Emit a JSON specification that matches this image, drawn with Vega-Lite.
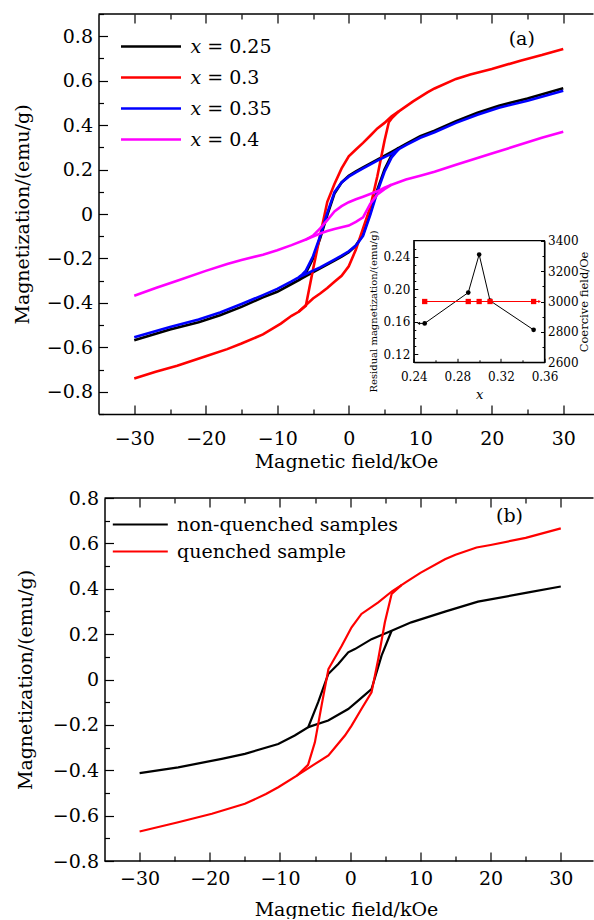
{
  "$schema": "https://vega.github.io/schema/vega-lite/v6.json",
  "padding": {"left": 12.5, "top": 5, "right": 0, "bottom": 0},
  "background": "white",
  "config": {
    "font": "DejaVu Serif",
    "view": {"stroke": null},
    "axis": {"labelFont": "DejaVu Serif", "titleFont": "DejaVu Serif", "labelFontSize": 19, "titleFontSize": 19, "titleFontWeight": "normal", "labelColor": "#000", "titleColor": "#000", "domainColor": "#000", "tickColor": "#000", "domainWidth": 1.5, "tickWidth": 1.2, "grid": false, "labelOverlap": false, "labelFlush": false},
    "legend": {"labelFont": "DejaVu Serif", "labelFontSize": 19, "labelColor": "#000", "labelLimit": 400}
  },
  "resolve": {"scale": {"color": "independent"}, "legend": {"color": "independent"}},
  "datasets": {
    "a": [
      {"s":"x = 0.25","b":"d","h":30,"m":0.566},{"s":"x = 0.25","b":"d","h":25,"m":0.52},{"s":"x = 0.25","b":"d","h":21,"m":0.487},{"s":"x = 0.25","b":"d","h":18,"m":0.456},{"s":"x = 0.25","b":"d","h":15,"m":0.418},{"s":"x = 0.25","b":"d","h":12,"m":0.375},{"s":"x = 0.25","b":"d","h":10,"m":0.35},{"s":"x = 0.25","b":"d","h":8,"m":0.315},{"s":"x = 0.25","b":"d","h":7,"m":0.298},{"s":"x = 0.25","b":"d","h":6,"m":0.28},{"s":"x = 0.25","b":"d","h":4,"m":0.245},{"s":"x = 0.25","b":"d","h":2,"m":0.21},{"s":"x = 0.25","b":"d","h":1,"m":0.192},{"s":"x = 0.25","b":"d","h":0,"m":0.172},{"s":"x = 0.25","b":"d","h":-1,"m":0.142},{"s":"x = 0.25","b":"d","h":-2,"m":0.092},{"s":"x = 0.25","b":"d","h":-3,"m":-0.005},{"s":"x = 0.25","b":"d","h":-4,"m":-0.11},{"s":"x = 0.25","b":"d","h":-5,"m":-0.2},{"s":"x = 0.25","b":"d","h":-6,"m":-0.265},{"s":"x = 0.25","b":"d","h":-7,"m":-0.298},{"s":"x = 0.25","b":"d","h":-8,"m":-0.315},{"s":"x = 0.25","b":"d","h":-10,"m":-0.35},{"s":"x = 0.25","b":"d","h":-12,"m":-0.375},{"s":"x = 0.25","b":"d","h":-15,"m":-0.418},{"s":"x = 0.25","b":"d","h":-18,"m":-0.456},{"s":"x = 0.25","b":"d","h":-21,"m":-0.487},{"s":"x = 0.25","b":"d","h":-25,"m":-0.52},{"s":"x = 0.25","b":"d","h":-30,"m":-0.568},
      {"s":"x = 0.25","b":"a","h":-7,"m":-0.298},{"s":"x = 0.25","b":"a","h":-6,"m":-0.28},{"s":"x = 0.25","b":"a","h":-4,"m":-0.245},{"s":"x = 0.25","b":"a","h":-2,"m":-0.21},{"s":"x = 0.25","b":"a","h":-1,"m":-0.192},{"s":"x = 0.25","b":"a","h":0,"m":-0.172},{"s":"x = 0.25","b":"a","h":1,"m":-0.142},{"s":"x = 0.25","b":"a","h":2,"m":-0.092},{"s":"x = 0.25","b":"a","h":3,"m":0.005},{"s":"x = 0.25","b":"a","h":4,"m":0.11},{"s":"x = 0.25","b":"a","h":5,"m":0.2},{"s":"x = 0.25","b":"a","h":6,"m":0.265},{"s":"x = 0.25","b":"a","h":7,"m":0.298},
      {"s":"x = 0.3","b":"d","h":30,"m":0.743},{"s":"x = 0.3","b":"d","h":27,"m":0.715},{"s":"x = 0.3","b":"d","h":24,"m":0.69},{"s":"x = 0.3","b":"d","h":20,"m":0.652},{"s":"x = 0.3","b":"d","h":17,"m":0.628},{"s":"x = 0.3","b":"d","h":15,"m":0.608},{"s":"x = 0.3","b":"d","h":12,"m":0.565},{"s":"x = 0.3","b":"d","h":11,"m":0.547},{"s":"x = 0.3","b":"d","h":9,"m":0.507},{"s":"x = 0.3","b":"d","h":7,"m":0.462},{"s":"x = 0.3","b":"d","h":6,"m":0.44},{"s":"x = 0.3","b":"d","h":5,"m":0.41},{"s":"x = 0.3","b":"d","h":4,"m":0.385},{"s":"x = 0.3","b":"d","h":3,"m":0.352},{"s":"x = 0.3","b":"d","h":2,"m":0.32},{"s":"x = 0.3","b":"d","h":1,"m":0.29},{"s":"x = 0.3","b":"d","h":0,"m":0.26},{"s":"x = 0.3","b":"d","h":-1,"m":0.205},{"s":"x = 0.3","b":"d","h":-2,"m":0.135},{"s":"x = 0.3","b":"d","h":-3,"m":0.055},{"s":"x = 0.3","b":"d","h":-4,"m":-0.096},{"s":"x = 0.3","b":"d","h":-5,"m":-0.25},{"s":"x = 0.3","b":"d","h":-6,"m":-0.413},{"s":"x = 0.3","b":"d","h":-7,"m":-0.44},{"s":"x = 0.3","b":"d","h":-8,"m":-0.458},{"s":"x = 0.3","b":"d","h":-9.5,"m":-0.493},{"s":"x = 0.3","b":"d","h":-12,"m":-0.542},{"s":"x = 0.3","b":"d","h":-15,"m":-0.583},{"s":"x = 0.3","b":"d","h":-17,"m":-0.608},{"s":"x = 0.3","b":"d","h":-20,"m":-0.64},{"s":"x = 0.3","b":"d","h":-24,"m":-0.683},{"s":"x = 0.3","b":"d","h":-27,"m":-0.71},{"s":"x = 0.3","b":"d","h":-30,"m":-0.74},
      {"s":"x = 0.3","b":"a","h":-7,"m":-0.44},{"s":"x = 0.3","b":"a","h":-6,"m":-0.41},{"s":"x = 0.3","b":"a","h":-5,"m":-0.38},{"s":"x = 0.3","b":"a","h":-4,"m":-0.358},{"s":"x = 0.3","b":"a","h":-3,"m":-0.333},{"s":"x = 0.3","b":"a","h":-2,"m":-0.305},{"s":"x = 0.3","b":"a","h":-1,"m":-0.278},{"s":"x = 0.3","b":"a","h":0,"m":-0.235},{"s":"x = 0.3","b":"a","h":1,"m":-0.16},{"s":"x = 0.3","b":"a","h":2,"m":-0.065},{"s":"x = 0.3","b":"a","h":3,"m":0.03},{"s":"x = 0.3","b":"a","h":4,"m":0.17},{"s":"x = 0.3","b":"a","h":5,"m":0.33},{"s":"x = 0.3","b":"a","h":5.6,"m":0.413},{"s":"x = 0.3","b":"a","h":6,"m":0.43},{"s":"x = 0.3","b":"a","h":7,"m":0.462},
      {"s":"x = 0.35","b":"d","h":30,"m":0.555},{"s":"x = 0.35","b":"d","h":25,"m":0.51},{"s":"x = 0.35","b":"d","h":21,"m":0.478},{"s":"x = 0.35","b":"d","h":18,"m":0.447},{"s":"x = 0.35","b":"d","h":15,"m":0.41},{"s":"x = 0.35","b":"d","h":12,"m":0.368},{"s":"x = 0.35","b":"d","h":10,"m":0.343},{"s":"x = 0.35","b":"d","h":8,"m":0.31},{"s":"x = 0.35","b":"d","h":7,"m":0.292},{"s":"x = 0.35","b":"d","h":6,"m":0.272},{"s":"x = 0.35","b":"d","h":4,"m":0.24},{"s":"x = 0.35","b":"d","h":2,"m":0.205},{"s":"x = 0.35","b":"d","h":1,"m":0.187},{"s":"x = 0.35","b":"d","h":0,"m":0.168},{"s":"x = 0.35","b":"d","h":-1,"m":0.142},{"s":"x = 0.35","b":"d","h":-2,"m":0.098},{"s":"x = 0.35","b":"d","h":-3,"m":0.005},{"s":"x = 0.35","b":"d","h":-4,"m":-0.1},{"s":"x = 0.35","b":"d","h":-5,"m":-0.19},{"s":"x = 0.35","b":"d","h":-6,"m":-0.255},{"s":"x = 0.35","b":"d","h":-6.5,"m":-0.272},{"s":"x = 0.35","b":"d","h":-7,"m":-0.285},{"s":"x = 0.35","b":"d","h":-8,"m":-0.303},{"s":"x = 0.35","b":"d","h":-10,"m":-0.337},{"s":"x = 0.35","b":"d","h":-12,"m":-0.365},{"s":"x = 0.35","b":"d","h":-15,"m":-0.405},{"s":"x = 0.35","b":"d","h":-18,"m":-0.443},{"s":"x = 0.35","b":"d","h":-21,"m":-0.475},{"s":"x = 0.35","b":"d","h":-25,"m":-0.508},{"s":"x = 0.35","b":"d","h":-30,"m":-0.555},
      {"s":"x = 0.35","b":"a","h":-7,"m":-0.285},{"s":"x = 0.35","b":"a","h":-6,"m":-0.27},{"s":"x = 0.35","b":"a","h":-4,"m":-0.24},{"s":"x = 0.35","b":"a","h":-2,"m":-0.205},{"s":"x = 0.35","b":"a","h":-1,"m":-0.187},{"s":"x = 0.35","b":"a","h":0,"m":-0.168},{"s":"x = 0.35","b":"a","h":1,"m":-0.142},{"s":"x = 0.35","b":"a","h":2,"m":-0.098},{"s":"x = 0.35","b":"a","h":3,"m":-0.005},{"s":"x = 0.35","b":"a","h":4,"m":0.1},{"s":"x = 0.35","b":"a","h":5,"m":0.19},{"s":"x = 0.35","b":"a","h":6,"m":0.255},{"s":"x = 0.35","b":"a","h":6.5,"m":0.274},{"s":"x = 0.35","b":"a","h":7,"m":0.292},
      {"s":"x = 0.4","b":"d","h":30,"m":0.37},{"s":"x = 0.4","b":"d","h":27,"m":0.343},{"s":"x = 0.4","b":"d","h":25,"m":0.323},{"s":"x = 0.4","b":"d","h":20,"m":0.272},{"s":"x = 0.4","b":"d","h":18,"m":0.252},{"s":"x = 0.4","b":"d","h":15,"m":0.222},{"s":"x = 0.4","b":"d","h":12,"m":0.19},{"s":"x = 0.4","b":"d","h":10,"m":0.172},{"s":"x = 0.4","b":"d","h":8,"m":0.155},{"s":"x = 0.4","b":"d","h":6,"m":0.132},{"s":"x = 0.4","b":"d","h":5,"m":0.118},{"s":"x = 0.4","b":"d","h":4,"m":0.102},{"s":"x = 0.4","b":"d","h":3,"m":0.09},{"s":"x = 0.4","b":"d","h":2,"m":0.078},{"s":"x = 0.4","b":"d","h":1,"m":0.066},{"s":"x = 0.4","b":"d","h":0,"m":0.053},{"s":"x = 0.4","b":"d","h":-1,"m":0.035},{"s":"x = 0.4","b":"d","h":-2,"m":0.012},{"s":"x = 0.4","b":"d","h":-3,"m":-0.028},{"s":"x = 0.4","b":"d","h":-4,"m":-0.065},{"s":"x = 0.4","b":"d","h":-5,"m":-0.097},{"s":"x = 0.4","b":"d","h":-6,"m":-0.115},{"s":"x = 0.4","b":"d","h":-8,"m":-0.14},{"s":"x = 0.4","b":"d","h":-10,"m":-0.163},{"s":"x = 0.4","b":"d","h":-12,"m":-0.183},{"s":"x = 0.4","b":"d","h":-15,"m":-0.207},{"s":"x = 0.4","b":"d","h":-17,"m":-0.225},{"s":"x = 0.4","b":"d","h":-20,"m":-0.256},{"s":"x = 0.4","b":"d","h":-24,"m":-0.3},{"s":"x = 0.4","b":"d","h":-27,"m":-0.333},{"s":"x = 0.4","b":"d","h":-30,"m":-0.368},
      {"s":"x = 0.4","b":"a","h":-6,"m":-0.115},{"s":"x = 0.4","b":"a","h":-5,"m":-0.102},{"s":"x = 0.4","b":"a","h":-4,"m":-0.088},{"s":"x = 0.4","b":"a","h":-3,"m":-0.077},{"s":"x = 0.4","b":"a","h":-2,"m":-0.068},{"s":"x = 0.4","b":"a","h":-1,"m":-0.06},{"s":"x = 0.4","b":"a","h":0,"m":-0.052},{"s":"x = 0.4","b":"a","h":1,"m":-0.035},{"s":"x = 0.4","b":"a","h":2,"m":-0.015},{"s":"x = 0.4","b":"a","h":3,"m":0.045},{"s":"x = 0.4","b":"a","h":4,"m":0.088},{"s":"x = 0.4","b":"a","h":5,"m":0.112},{"s":"x = 0.4","b":"a","h":6,"m":0.132}
    ],
    "b": [
      {"s":"non-quenched samples","b":"d","h":30,"m":0.41},{"s":"non-quenched samples","b":"d","h":25.4,"m":0.384},{"s":"non-quenched samples","b":"d","h":18.2,"m":0.343},{"s":"non-quenched samples","b":"d","h":13.5,"m":0.299},{"s":"non-quenched samples","b":"d","h":8.7,"m":0.252},{"s":"non-quenched samples","b":"d","h":5.9,"m":0.215},{"s":"non-quenched samples","b":"d","h":3.04,"m":0.178},{"s":"non-quenched samples","b":"d","h":0.67,"m":0.134},{"s":"non-quenched samples","b":"d","h":-0.28,"m":0.12},{"s":"non-quenched samples","b":"d","h":-1.7,"m":0.068},{"s":"non-quenched samples","b":"d","h":-3.13,"m":0.024},{"s":"non-quenched samples","b":"d","h":-4.56,"m":-0.1},{"s":"non-quenched samples","b":"d","h":-5.98,"m":-0.21},{"s":"non-quenched samples","b":"d","h":-7.9,"m":-0.247},{"s":"non-quenched samples","b":"d","h":-10.25,"m":-0.284},{"s":"non-quenched samples","b":"d","h":-15,"m":-0.328},{"s":"non-quenched samples","b":"d","h":-18.3,"m":-0.35},{"s":"non-quenched samples","b":"d","h":-24.5,"m":-0.387},{"s":"non-quenched samples","b":"d","h":-30,"m":-0.413},
      {"s":"non-quenched samples","b":"a","h":-5.98,"m":-0.21},{"s":"non-quenched samples","b":"a","h":-3.13,"m":-0.181},{"s":"non-quenched samples","b":"a","h":-0.28,"m":-0.13},{"s":"non-quenched samples","b":"a","h":1.14,"m":-0.093},{"s":"non-quenched samples","b":"a","h":3.04,"m":-0.042},{"s":"non-quenched samples","b":"a","h":4.47,"m":0.105},{"s":"non-quenched samples","b":"a","h":5.9,"m":0.215},
      {"s":"quenched sample","b":"d","h":30,"m":0.666},{"s":"quenched sample","b":"d","h":25,"m":0.624},{"s":"quenched sample","b":"d","h":20,"m":0.593},{"s":"quenched sample","b":"d","h":18,"m":0.582},{"s":"quenched sample","b":"d","h":15,"m":0.55},{"s":"quenched sample","b":"d","h":13.5,"m":0.53},{"s":"quenched sample","b":"d","h":10,"m":0.47},{"s":"quenched sample","b":"d","h":8,"m":0.43},{"s":"quenched sample","b":"d","h":7.3,"m":0.416},{"s":"quenched sample","b":"d","h":6,"m":0.39},{"s":"quenched sample","b":"d","h":4,"m":0.34},{"s":"quenched sample","b":"d","h":1.6,"m":0.289},{"s":"quenched sample","b":"d","h":0.2,"m":0.23},{"s":"quenched sample","b":"d","h":-1.2,"m":0.149},{"s":"quenched sample","b":"d","h":-3.1,"m":0.046},{"s":"quenched sample","b":"d","h":-4.08,"m":-0.115},{"s":"quenched sample","b":"d","h":-5.03,"m":-0.277},{"s":"quenched sample","b":"d","h":-6,"m":-0.376},{"s":"quenched sample","b":"d","h":-7.6,"m":-0.424},{"s":"quenched sample","b":"d","h":-10.25,"m":-0.475},{"s":"quenched sample","b":"d","h":-12,"m":-0.505},{"s":"quenched sample","b":"d","h":-15,"m":-0.548},{"s":"quenched sample","b":"d","h":-19.7,"m":-0.592},{"s":"quenched sample","b":"d","h":-24.5,"m":-0.629},{"s":"quenched sample","b":"d","h":-30,"m":-0.67},
      {"s":"quenched sample","b":"a","h":-7.6,"m":-0.424},{"s":"quenched sample","b":"a","h":-5,"m":-0.372},{"s":"quenched sample","b":"a","h":-3.1,"m":-0.335},{"s":"quenched sample","b":"a","h":-0.75,"m":-0.247},{"s":"quenched sample","b":"a","h":0.2,"m":-0.203},{"s":"quenched sample","b":"a","h":1.6,"m":-0.13},{"s":"quenched sample","b":"a","h":3.04,"m":-0.057},{"s":"quenched sample","b":"a","h":4,"m":0.09},{"s":"quenched sample","b":"a","h":4.94,"m":0.252},{"s":"quenched sample","b":"a","h":5.9,"m":0.377},{"s":"quenched sample","b":"a","h":7.3,"m":0.416}
    ],
    "inset": [
      {"x":0.25,"rm":0.158,"hc":3000},{"x":0.29,"rm":0.196,"hc":3000},{"x":0.30,"rm":0.243,"hc":3000},{"x":0.31,"rm":0.186,"hc":3000},{"x":0.35,"rm":0.150,"hc":3000}
    ]
  },
  "spacing": 18,
  "vconcat": [
    {
      "width": 495,
      "height": 400,
      "layer": [
        {
          "data": {"name": "a"},
          "mark": {"type": "line", "strokeWidth": 2.6},
          "encoding": {
            "x": {"field": "h", "type": "quantitative", "scale": {"domain": [-35, 34.23], "nice": false, "zero": false},
              "axis": {"orient": "bottom", "values": [-30,-25,-20,-15,-10,-5,0,5,10,15,20,25,30], "labelExpr": "datum.value % 10 == 0 ? datum.label : ''", "tickSize": {"condition": {"test": "datum.value % 10 == 0", "value": -9}, "value": -5}, "labelPadding": 24, "title": "Magnetic field/kOe", "titlePadding": 0}},
            "y": {"field": "m", "type": "quantitative", "scale": {"domain": [-0.9, 0.9], "nice": false, "zero": false},
              "axis": {"orient": "left", "values": [-0.9,-0.8,-0.7,-0.6,-0.5,-0.4,-0.3,-0.2,-0.1,0,0.1,0.2,0.3,0.4,0.5,0.6,0.7,0.8,0.9], "labelExpr": "abs(round(datum.value*10)) % 2 == 0 ? (abs(datum.value) < 0.001 ? '0' : format(datum.value, '.1f')) : ''", "tickSize": {"condition": {"test": "abs(round(datum.value*10)) % 2 == 0", "value": -9}, "value": -5}, "labelPadding": 15, "title": "Magnetization/(emu/g)", "titlePadding": 14}},
            "color": {"field": "s", "type": "nominal", "scale": {"domain": ["x = 0.25", "x = 0.3", "x = 0.35", "x = 0.4"], "range": ["#000000", "#ff0000", "#0000ff", "#ff00ff"]},
              "legend": {"title": null, "orient": "none", "legendX": 41, "legendY": 21, "symbolType": "M-3,0H3", "symbolSize": 400, "symbolStrokeWidth": 2.6, "labelFontSize": 19, "labelOffset": 28, "rowPadding": 9, "padding": 0, "labelExpr": "replace(datum.label, 'x', '𝑥')"}},
            "detail": {"field": "b"}
          }
        },
        {
          "data": {"values": [{}]},
          "mark": {"type": "text", "fontSize": 19, "font": "DejaVu Serif", "color": "#000", "baseline": "middle", "align": "center"},
          "encoding": {
            "x": {"datum": 24.2, "type": "quantitative", "scale": {"domain": [-35, 34.23], "nice": false, "zero": false},
              "axis": {"orient": "top", "domain": false, "values": [-30,-25,-20,-15,-10,-5,0,5,10,15,20,25,30], "labelExpr": "''", "labelFontSize": 1, "labelPadding": 0, "tickSize": {"condition": {"test": "datum.value % 10 == 0", "value": -9}, "value": -5}, "title": null}},
            "y": {"datum": 0.7875, "type": "quantitative", "scale": {"domain": [-0.9, 0.9], "nice": false, "zero": false}, "axis": null},
            "text": {"value": "(a)"}
          }
        },
        {
          "data": {"values": [{}]},
          "mark": {"type": "rule", "color": "#000", "strokeWidth": 1.5},
          "encoding": {
            "x": {"datum": -35, "type": "quantitative", "scale": {"domain": [-35, 34.23], "nice": false, "zero": false}, "axis": null},
            "x2": {"datum": 34.23},
            "y": {"datum": 0.9, "type": "quantitative", "scale": {"domain": [-0.9, 0.9], "nice": false, "zero": false}, "axis": null}
          }
        },
        {
          "data": {"values": [{}]},
          "mark": {"type": "rect", "fill": "white", "stroke": "black", "strokeWidth": 1.2},
          "encoding": {
            "x": {"datum": 0.24, "type": "quantitative", "scale": {"domain": [0.24, 0.36], "range": [315.3, 446], "nice": false, "zero": false},
              "axis": {"orient": "bottom", "offset": -51.7, "zindex": 1, "values": [0.24,0.26,0.28,0.3,0.32,0.34,0.36], "labelExpr": "round(datum.value*100) % 4 == 0 ? format(datum.value, '.2f') : ''", "tickSize": {"condition": {"test": "round(datum.value*100) % 4 == 0", "value": -4}, "value": -2.5}, "labelPadding": 13, "labelFontSize": 12, "title": "x", "titleFontStyle": "italic", "titleFontSize": 13, "titlePadding": 5, "domainWidth": 1, "tickWidth": 1}},
            "x2": {"datum": 0.36},
            "y": {"datum": 0.11, "type": "quantitative", "scale": {"domain": [0.11, 0.26], "range": [348.3, 226.7], "nice": false, "zero": false},
              "axis": {"orient": "left", "offset": -315.3, "zindex": 1, "values": [0.12,0.13,0.14,0.15,0.16,0.17,0.18,0.19,0.2,0.21,0.22,0.23,0.24,0.25], "labelExpr": "round(datum.value*100) % 4 == 0 ? format(datum.value, '.2f') : ''", "tickSize": {"condition": {"test": "round(datum.value*100) % 4 == 0", "value": -4}, "value": -2}, "labelPadding": 8, "labelFontSize": 12, "title": "Residual magnetization/(emu/g)", "titleFontSize": 10, "titlePadding": 5, "titleY": 297, "domainWidth": 1, "tickWidth": 1}},
            "y2": {"datum": 0.26}
          }
        },
        {
          "data": {"name": "inset"},
          "mark": {"type": "line", "color": "#000", "strokeWidth": 1},
          "encoding": {
            "x": {"field": "x", "type": "quantitative", "scale": {"domain": [0.24, 0.36], "range": [315.3, 446], "nice": false, "zero": false}, "axis": null},
            "y": {"field": "rm", "type": "quantitative", "scale": {"domain": [0.11, 0.26], "range": [348.3, 226.7], "nice": false, "zero": false}, "axis": null}
          }
        },
        {
          "data": {"name": "inset"},
          "mark": {"type": "point", "filled": true, "color": "#000", "size": 22, "opacity": 1},
          "encoding": {
            "x": {"field": "x", "type": "quantitative", "scale": {"domain": [0.24, 0.36], "range": [315.3, 446], "nice": false, "zero": false}, "axis": null},
            "y": {"field": "rm", "type": "quantitative", "scale": {"domain": [0.11, 0.26], "range": [348.3, 226.7], "nice": false, "zero": false}, "axis": null}
          }
        },
        {
          "data": {"values": [{}]},
          "mark": {"type": "rule", "color": "#000", "strokeWidth": 1},
          "encoding": {
            "x": {"datum": 0.2445, "type": "quantitative", "scale": {"domain": [0.24, 0.36], "range": [315.3, 446], "nice": false, "zero": false}, "axis": null},
            "x2": {"datum": 0.25},
            "y": {"datum": 0.158, "type": "quantitative", "scale": {"domain": [0.11, 0.26], "range": [348.3, 226.7], "nice": false, "zero": false}, "axis": null}
          }
        },
        {
          "data": {"values": [{}]},
          "mark": {"type": "point", "shape": "triangle-left", "filled": true, "color": "#000", "size": 10, "opacity": 1},
          "encoding": {
            "x": {"datum": 0.2445, "type": "quantitative", "scale": {"domain": [0.24, 0.36], "range": [315.3, 446], "nice": false, "zero": false}, "axis": null},
            "y": {"datum": 0.158, "type": "quantitative", "scale": {"domain": [0.11, 0.26], "range": [348.3, 226.7], "nice": false, "zero": false}, "axis": null}
          }
        },
        {
          "data": {"name": "inset"},
          "mark": {"type": "line", "color": "#ff0000", "strokeWidth": 1},
          "encoding": {
            "x": {"field": "x", "type": "quantitative", "scale": {"domain": [0.24, 0.36], "range": [315.3, 446], "nice": false, "zero": false}, "axis": null},
            "y": {"field": "hc", "type": "quantitative", "scale": {"domain": [2600, 3400], "range": [348.3, 226.7], "nice": false, "zero": false},
              "axis": {"orient": "right", "offset": -49, "zindex": 1, "values": [2600,2700,2800,2900,3000,3100,3200,3300,3400], "labelExpr": "datum.value % 200 == 0 ? format(datum.value, 'd') : ''", "tickSize": {"condition": {"test": "datum.value % 200 == 0", "value": -4}, "value": -2.5}, "labelPadding": 7, "labelFontSize": 12, "title": "Coercive field/Oe", "titleFontSize": 11.5, "titlePadding": 0, "titleAngle": 270, "titleBaseline": "top", "domainWidth": 1, "tickWidth": 1}}
          }
        },
        {
          "data": {"name": "inset"},
          "mark": {"type": "square", "filled": true, "color": "#ff0000", "size": 28, "opacity": 1},
          "encoding": {
            "x": {"field": "x", "type": "quantitative", "scale": {"domain": [0.24, 0.36], "range": [315.3, 446], "nice": false, "zero": false}, "axis": null},
            "y": {"field": "hc", "type": "quantitative", "scale": {"domain": [2600, 3400], "range": [348.3, 226.7], "nice": false, "zero": false}, "axis": null}
          }
        },
        {
          "data": {"values": [{}]},
          "mark": {"type": "rule", "color": "#ff0000", "strokeWidth": 1},
          "encoding": {
            "x": {"datum": 0.35, "type": "quantitative", "scale": {"domain": [0.24, 0.36], "range": [315.3, 446], "nice": false, "zero": false}, "axis": null},
            "x2": {"datum": 0.3555},
            "y": {"datum": 3000, "type": "quantitative", "scale": {"domain": [2600, 3400], "range": [348.3, 226.7], "nice": false, "zero": false}, "axis": null}
          }
        },
        {
          "data": {"values": [{}]},
          "mark": {"type": "point", "shape": "triangle-right", "filled": true, "color": "#ff0000", "size": 10, "opacity": 1},
          "encoding": {
            "x": {"datum": 0.3555, "type": "quantitative", "scale": {"domain": [0.24, 0.36], "range": [315.3, 446], "nice": false, "zero": false}, "axis": null},
            "y": {"datum": 3000, "type": "quantitative", "scale": {"domain": [2600, 3400], "range": [348.3, 226.7], "nice": false, "zero": false}, "axis": null}
          }
        }
      ],
      "resolve": {"scale": {"x": "independent", "y": "independent"}}
    },
    {
      "width": 495,
      "height": 363,
      "layer": [
        {
          "data": {"name": "b"},
          "mark": {"type": "line", "strokeWidth": 2.2},
          "encoding": {
            "x": {"field": "h", "type": "quantitative", "scale": {"domain": [-35.855, 34.66], "nice": false, "zero": false},
              "axis": {"orient": "bottom", "domain": false, "values": [-30,-25,-20,-15,-10,-5,0,5,10,15,20,25,30], "labelExpr": "datum.value % 10 == 0 ? datum.label : ''", "tickSize": {"condition": {"test": "datum.value % 10 == 0", "value": -9}, "value": -5}, "labelPadding": 17, "title": "Magnetic field/kOe", "titlePadding": 8}},
            "y": {"field": "m", "type": "quantitative", "scale": {"domain": [-0.8, 0.8], "nice": false, "zero": false},
              "axis": {"orient": "left", "offset": -6, "values": [-0.8,-0.7,-0.6,-0.5,-0.4,-0.3,-0.2,-0.1,0,0.1,0.2,0.3,0.4,0.5,0.6,0.7,0.8], "labelExpr": "abs(round(datum.value*10)) % 2 == 0 ? (abs(datum.value) < 0.001 ? '0' : format(datum.value, '.1f')) : ''", "tickSize": {"condition": {"test": "abs(round(datum.value*10)) % 2 == 0", "value": -9}, "value": -5}, "labelPadding": 15, "title": "Magnetization/(emu/g)", "titlePadding": 17}},
            "color": {"field": "s", "type": "nominal", "scale": {"domain": ["non-quenched samples", "quenched sample"], "range": ["#000000", "#ff0000"]},
              "legend": {"title": null, "orient": "none", "legendX": 31.3, "legendY": 16, "symbolType": "M-3,0H3", "symbolSize": 336, "symbolStrokeWidth": 2.2, "labelFontSize": 19, "labelOffset": 26.3, "rowPadding": 6, "padding": 0, "labelLimit": 400}},
            "detail": {"field": "b"}
          }
        },
        {
          "data": {"values": [{}]},
          "mark": {"type": "text", "fontSize": 19, "font": "DejaVu Serif", "color": "#000", "baseline": "middle", "align": "center"},
          "encoding": {
            "x": {"datum": 22.7, "type": "quantitative", "scale": {"domain": [-35.855, 34.66], "nice": false, "zero": false},
              "axis": {"orient": "top", "domain": false, "values": [-30,-25,-20,-15,-10,-5,0,5,10,15,20,25,30], "labelExpr": "''", "labelFontSize": 1, "labelPadding": 0, "tickSize": {"condition": {"test": "datum.value % 10 == 0", "value": -9}, "value": -5}, "title": null}},
            "y": {"datum": 0.72, "type": "quantitative", "scale": {"domain": [-0.8, 0.8], "nice": false, "zero": false}, "axis": null},
            "text": {"value": "(b)"}
          }
        },
        {
          "data": {"values": [{}]},
          "mark": {"type": "rule", "color": "#000", "strokeWidth": 1.5},
          "encoding": {
            "x": {"datum": -35, "type": "quantitative", "scale": {"domain": [-35.855, 34.66], "nice": false, "zero": false}, "axis": null},
            "x2": {"datum": 34.66},
            "y": {"datum": -0.8, "type": "quantitative", "scale": {"domain": [-0.8, 0.8], "nice": false, "zero": false}, "axis": null}
          }
        },
        {
          "data": {"values": [{}]},
          "mark": {"type": "rule", "color": "#000", "strokeWidth": 1.5},
          "encoding": {
            "x": {"datum": -35, "type": "quantitative", "scale": {"domain": [-35.855, 34.66], "nice": false, "zero": false}, "axis": null},
            "x2": {"datum": 34.66},
            "y": {"datum": 0.8, "type": "quantitative", "scale": {"domain": [-0.8, 0.8], "nice": false, "zero": false}, "axis": null}
          }
        }
      ],
      "resolve": {"scale": {"x": "independent", "y": "independent"}}
    }
  ]
}
